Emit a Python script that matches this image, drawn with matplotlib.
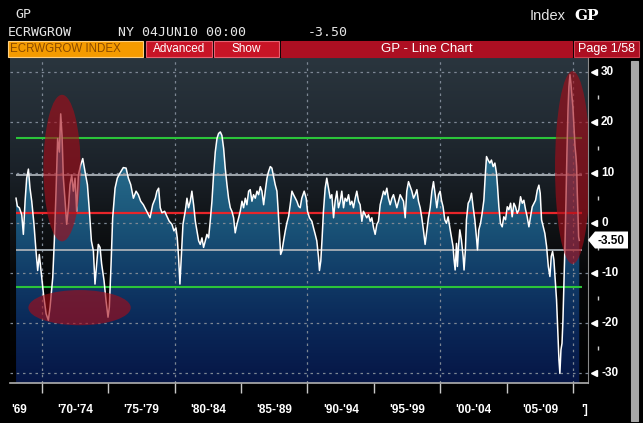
# ECRI weekly leading index growth, Bloomberg GP screen
import numpy as np
import matplotlib
matplotlib.use('Agg')
from matplotlib import pyplot as plt
from matplotlib.colors import LinearSegmentedColormap
from matplotlib.patches import Ellipse, Rectangle, Polygon, PathPatch
from matplotlib.transforms import blended_transform_factory

# ---- data ----
years_a = [1968.07,1968.17,1968.32,1968.50,1968.62,1968.75,1968.87,1969.00,1969.12,1969.25,1969.42,1969.57,
           1969.70,1969.82,1969.95,1970.13,1970.33,1970.50,1970.63,1970.83,1970.95,1971.08,1971.20,1971.33,
           1971.43,1971.53,1971.63,1971.76,1971.88,1972.01,1972.13,1972.26,1972.38,1972.51,1972.63,1972.76,
           1972.93,1973.09,1973.26,1973.44,1973.59,1973.74,1973.89,1974.01,1974.14,1974.26,1974.39,1974.51,
           1974.69,1974.84,1974.99,1975.09,1975.22,1975.34,1975.52,1975.69,1975.89,1976.14,1976.35,1976.52,
           1976.70,1976.90,1977.10,1977.27,1977.45,1977.65,1977.90,1978.15,1978.35]
growth_a = [4.9,3.3,3.0,1.6,-2.3,4.3,8.9,10.7,6.9,4.3,-0.3,-5.6,-9.5,-6.3,-9.5,-14.1,-18.1,-19.4,-16.8,-10.9,
            -3.6,6.3,16.8,14.1,21.7,17.4,8.9,4.3,-0.3,3.0,7.6,9.5,6.3,8.9,2.3,9.5,11.5,12.8,10.2,7.6,2.3,-3.6,
            -5.6,-12.2,-8.2,-4.3,-4.9,-8.2,-11.5,-15.5,-18.8,-16.8,-8.2,1.0,6.9,8.9,9.9,11.0,10.9,8.9,7.6,4.9,
            6.3,5.6,4.3,3.6,2.3,1.0,3.6]

years_b = [1978.55,1978.67,1978.80,1978.92,1979.05,1979.25,1979.42,1979.60,1979.80,1979.95,1980.10,1980.20,
           1980.30,1980.40,1980.50,1980.63,1980.80,1980.93,1981.05,1981.18,1981.30,1981.43,1981.56,1981.68,
           1981.81,1981.93,1982.06,1982.18,1982.31,1982.43,1982.56,1982.68,1982.81,1982.93,1983.06,1983.19,
           1983.31,1983.44,1983.56,1983.69,1983.81,1983.94,1984.06,1984.19,1984.31,1984.44,1984.56,1984.69,
           1984.82,1984.94,1985.07,1985.19,1985.32,1985.44,1985.57,1985.69,1985.82,1985.94,1986.07,1986.20,
           1986.32,1986.45,1986.57,1986.70,1986.82,1986.95,1987.07,1987.20,1987.32,1987.45,1987.57,1987.70,
           1987.78,1987.88,1987.98,1988.08,1988.20,1988.33,1988.45,1988.58,1988.70,1988.83,1988.95,1989.08,
           1989.20,1989.33]
growth_b = [4.9,6.3,6.9,3.0,2.0,2.3,1.3,0.3,-0.3,-1.6,-1.0,-3.0,-6.9,-12.2,-6.9,-0.3,2.3,4.9,3.0,4.3,6.3,3.6,
            0.3,-1.6,-3.6,-4.3,-3.0,-4.9,-3.6,-2.3,-3.0,0.3,4.3,9.5,14.1,16.8,17.8,18.1,17.4,14.8,10.9,7.6,
            4.9,3.0,2.3,1.0,-2.0,-0.3,1.0,2.3,4.3,3.0,4.9,3.6,6.3,6.6,4.3,5.6,4.9,6.3,5.6,7.2,6.3,3.6,6.3,8.9,
            10.2,11.2,10.9,9.2,7.6,6.3,3.0,-1.6,-6.3,-5.6,-3.6,-1.6,0.0,1.3,3.6,6.3,5.6,4.9,4.3,3.3]

years_c = [1989.45,1989.57,1989.75,1989.90,1990.00,1990.15,1990.33,1990.45,1990.58,1990.70,1990.83,1990.90,
           1991.00,1991.10,1991.20,1991.33,1991.45,1991.58,1991.71,1991.83,1991.96,1992.08,1992.21,1992.33,
           1992.46,1992.58,1992.71,1992.83,1992.96,1993.09,1993.21,1993.34,1993.46,1993.59,1993.71,1993.84,
           1993.96,1994.09,1994.21,1994.34,1994.46,1994.59,1994.72,1994.84,1994.97,1995.09,1995.22,1995.34,
           1995.47,1995.59,1995.72,1995.84,1995.97,1996.09,1996.22,1996.35,1996.47,1996.60,1996.72,1996.85,
           1996.97,1997.10,1997.22,1997.35,1997.47,1997.60,1997.73,1997.85,1997.98,1998.10,1998.23,1998.35,
           1998.48,1998.60,1998.73,1998.85,1998.98,1999.10,1999.23,1999.36,1999.48,1999.61,1999.73,1999.86,
           1999.98]
growth_c = [3.0,4.9,6.3,4.9,2.3,1.0,0.3,-1.0,-2.3,-3.6,-6.9,-9.5,-7.6,-3.0,2.3,6.9,8.9,6.9,4.9,5.6,1.0,4.3,
            6.3,3.0,4.3,6.3,3.0,4.9,4.3,5.6,3.6,4.3,3.0,4.9,6.3,4.3,3.6,0.3,2.3,1.6,1.0,1.6,0.3,1.0,-1.0,-2.3,
            -0.3,0.3,3.6,4.9,6.3,5.6,6.9,4.9,3.6,4.9,5.6,4.3,3.0,4.3,5.6,4.9,4.3,1.0,6.3,8.2,7.2,6.3,4.9,5.6,
            6.6,4.3,3.0,1.0,-1.6,-4.3,-1.6,1.0,3.0,6.3,8.2,5.6,3.0,5.6,6.3]

years_d = [2000.08,2000.20,2000.33,2000.45,2000.58,2000.70,2000.83,2000.95,2001.03,2001.11,2001.21,2001.28,
           2001.36,2001.46,2001.58,2001.71,2001.78,2001.88,2001.96,2002.09,2002.21,2002.34,2002.46,2002.59,
           2002.71,2002.79,2002.89,2003.02,2003.14,2003.27,2003.37,2003.47,2003.59,2003.72,2003.84,2003.97,
           2004.10,2004.22,2004.30,2004.40,2004.52,2004.65,2004.77,2004.90,2005.03,2005.15,2005.28,2005.40,
           2005.53,2005.65,2005.78,2005.90,2006.03,2006.16,2006.28,2006.41,2006.53,2006.66,2006.78,2006.91,
           2007.04,2007.16,2007.29,2007.41,2007.51,2007.61,2007.74,2007.86,2007.99,2008.12,2008.24,2008.34,
           2008.44,2008.54,2008.64,2008.74,2008.84,2008.92,2008.99,2009.07,2009.15,2009.22,2009.30,2009.37,
           2009.45,2009.52,2009.60,2009.67,2009.75,2009.82,2009.90,2009.97,2010.05,2010.13,2010.20,2010.25,
           2010.30,2010.35,2010.40,2010.45]
growth_d = [4.5,3.2,0.6,-0.1,1.2,-0.8,-2.8,-4.7,-7.4,-9.4,-4.1,-8.7,-4.7,-1.4,-3.4,-6.7,-9.4,-5.4,0.6,3.9,4.5,
            5.9,3.2,0.6,-2.8,-5.4,-1.4,-0.1,1.9,4.5,9.2,13.2,12.5,11.9,12.5,11.2,11.9,9.9,7.2,3.2,-0.1,-0.8,
            1.2,0.6,3.2,2.6,3.9,1.2,3.9,3.2,1.9,2.6,5.2,3.9,4.5,2.6,1.2,-0.8,1.2,3.2,3.9,4.5,6.5,7.5,5.9,0.6,
            -0.8,-2.1,-4.7,-8.7,-10.7,-6.7,-5.7,-7.4,-11.4,-15.4,-22.0,-27.3,-30.0,-25.3,-24.0,-19.4,-11.4,
            -4.7,4.5,13.8,22.5,27.1,29.5,27.8,25.1,23.1,19.1,15.2,13.2,11.2,5.9,1.9,-2.8,-3.5]

last_value = -3.50
mean_level = 2.05
one_sd = [9.5, -5.4]
two_sd = [16.95, -12.85]

y_ticks = [30, 20, 10, 0, -10, -20, -30]
y_minor = [25, 15, 5, -5, -15, -25]
x_ticks = [1970, 1975, 1980, 1985, 1990, 1995, 2000, 2005, 2010]
x_labels = ["'69", "'70-'74", "'75-'79", "'80-'84", "'85-'89", "'90-'94",
            "'95-'99", "'00-'04", "'05-'09", "']"]
x_label_pos = [1968.3, 1972.5, 1977.5, 1982.5, 1987.5, 1992.5, 1997.5, 2002.5, 2007.5, 2010.85]

yrs = np.array(years_a + years_b + years_c + years_d)
vals = np.array(growth_a + growth_b + growth_c + growth_d)

# ---- layout in screen pixels ----
W, H = 643, 423
def fx(x):
    return x / W
def fy(y):
    return 1 - y / H

mono = ['DejaVu Sans Mono']
sans = ['Liberation Sans', 'DejaVu Sans']

fig = plt.figure(figsize=(W / 100, H / 100), dpi=100, facecolor='black')

# header
fig.text(fx(15), fy(15), 'GP', color='#e6e6e6', family=mono, fontsize=9.5, va='center')
fig.text(fx(8), fy(33), 'ECRWGROW', color='#e6e6e6', family=mono, fontsize=9.5, va='center')
fig.text(fx(118), fy(33), 'NY 04JUN10 00:00', color='#e6e6e6', family=mono, fontsize=9.5, va='center')
fig.text(fx(308), fy(33), '-3.50', color='#e6e6e6', family=mono, fontsize=9.5, va='center')
fig.text(fx(530), fy(16), 'Index', color='#e6e6e6', family=sans, fontsize=10.5, va='center')
fig.text(fx(574), fy(16), 'GP', color='#ffffff', family=['DejaVu Serif'], fontsize=11,
         fontweight='bold', va='center')

def box(x0, x1, y0, y1, face, edge):
    r = Rectangle((fx(x0), fy(y1)), fx(x1) - fx(x0), fy(y0) - fy(y1), transform=fig.transFigure,
                  facecolor=face, edgecolor=edge, linewidth=0.8)
    fig.add_artist(r)

box(8, 143, 41, 57, '#f59b00', '#ffd080')
fig.text(fx(10), fy(49.5), 'ECRWGROW INDEX', color='#8a4a00', family=sans, fontsize=8.3, va='center')
box(146, 212, 41, 57, '#c81426', '#e86070')
fig.text(fx(179), fy(49), 'Advanced', color='white', family=sans, fontsize=8.5, va='center', ha='center')
box(214, 279, 41, 57, '#c81426', '#e86070')
fig.text(fx(246), fy(49), 'Show', color='white', family=sans, fontsize=8.5, va='center', ha='center')
box(281, 572, 41, 57, '#ad0f22', '#ad0f22')
fig.text(fx(427), fy(49), 'GP - Line Chart', color='white', family=sans, fontsize=9.5, va='center',
         ha='center')
box(574, 639, 41, 57, '#ad0f22', '#d04050')
fig.text(fx(606), fy(49), 'Page 1/58', color='white', family=sans, fontsize=9, va='center', ha='center')

# scrollbar
box(631, 638, 61, 421, '#a8a8a8', '#a8a8a8')

# ---- chart ----
ax = fig.add_axes([fx(10), fy(383), fx(588) - fx(10), fy(58) - fy(383)])
xlo, xhi = 1967.615, 2011.106
ylo, yhi = -31.91, 32.83

bg_cmap = LinearSegmentedColormap.from_list('bg', [(0, '#000000'), (0.34, '#070809'), (0.49, '#101316'),
                                                   (0.65, '#1a2128'), (0.80, '#222b33'), (1, '#2a353e')])
fill_cmap = LinearSegmentedColormap.from_list('fill', [(0, '#061646'), (0.18, '#0a2858'), (0.34, '#113d68'),
                                                       (0.49, '#1a5478'), (0.65, '#256888'), (0.80, '#2f7695'),
                                                       (1, '#3a84a2')])
grad = np.linspace(0, 1, 256).reshape(-1, 1)
ax.imshow(grad, extent=[xlo, xhi, ylo, yhi], origin='lower', aspect='auto', cmap=bg_cmap, zorder=0,
          interpolation='bilinear')
img = ax.imshow(grad, extent=[xlo, xhi, ylo, yhi], origin='lower', aspect='auto', cmap=fill_cmap, zorder=1,
                interpolation='bilinear')
poly = ax.fill_between(yrs, vals, ylo, facecolor='none', edgecolor='none')
clip = PathPatch(poly.get_paths()[0], transform=ax.transData, facecolor='none', edgecolor='none')
ax.add_patch(clip)
img.set_clip_path(clip)

# dotted grid
for t in y_ticks:
    ax.axhline(t, color='#7d8794', lw=0.9, ls=(0, (2, 3)), zorder=2)
for t in [1970, 1980, 1990, 2000, 2010]:
    ax.axvline(t, color='#7d8794', lw=0.9, ls=(0, (2, 3)), zorder=2)

# study lines
line_x0, line_x1 = 1968.04, 2010.63
ax.hlines(one_sd, line_x0, line_x1, color='#a9b0b6', lw=1.3, zorder=3)
ax.hlines(two_sd, line_x0, line_x1, color='#2bc43a', lw=1.5, zorder=3)
ax.hlines(mean_level, line_x0, line_x1, color='#e8262a', lw=1.6, zorder=3)

ax.plot(yrs, vals, color='white', lw=1.1, zorder=4)

# highlight ellipses
for cx, cy, w, h in [(1971.53, 10.9, 2.8, 29.2), (1972.85, -16.9, 7.7, 7.0), (2009.94, 11.0, 2.63, 38.4)]:
    ax.add_patch(Ellipse((cx, cy), w, h, facecolor='#a80c18', edgecolor='none', alpha=0.62, zorder=5))

ax.set_xlim(xlo, xhi)
ax.set_ylim(ylo, yhi)
ax.set_facecolor('black')
for s in ['top', 'left']:
    ax.spines[s].set_visible(False)
ax.spines['right'].set_color('#8a8a8a')
ax.spines['bottom'].set_color('#b0b0b0')
ax.spines['bottom'].set_linewidth(1.2)

ax.set_xticks(x_ticks)
ax.set_xticklabels([])
ax.tick_params(axis='x', length=7, color='#c8c8c8', width=1, direction='out')
ax.set_yticks([])

# bottom labels
tb = blended_transform_factory(ax.transData, ax.transAxes)
for p, lab in zip(x_label_pos, x_labels):
    ax.text(p, -27 / 325, lab, transform=tb, color='white', family=sans, fontsize=8.5,
            fontweight='bold', ha='center', va='center', clip_on=False)

# right axis labels with arrow marks
tr = blended_transform_factory(ax.transAxes, ax.transData)
ax.plot([1 + 6 / 578] * len(y_ticks), y_ticks, ls='none', marker='<', ms=5, color='white',
        transform=tr, clip_on=False)
ax.plot([1 + 10 / 578] * len(y_minor), y_minor, ls='none', marker='|', ms=2.5, color='#d0d0d0',
        transform=tr, clip_on=False)
for t in y_ticks:
    ax.text(1 + 13 / 578, t, str(t), transform=tr, color='white', family=sans, fontsize=8.5,
            fontweight='bold', ha='left', va='center', clip_on=False)

# last value tag
tag = [(588, 240), (595, 231.5), (628, 231.5), (628, 248.5), (595, 248.5)]
fig.add_artist(Polygon([(fx(x), fy(y)) for x, y in tag], closed=True, transform=fig.transFigure,
                       facecolor='white', edgecolor='none', zorder=10))
fig.text(fx(611), fy(240.5), '%.2f' % last_value, color='black', family=sans, fontsize=8.5,
         fontweight='bold', ha='center', va='center', zorder=11)

fig.savefig('out.png', dpi=100, facecolor='black')
